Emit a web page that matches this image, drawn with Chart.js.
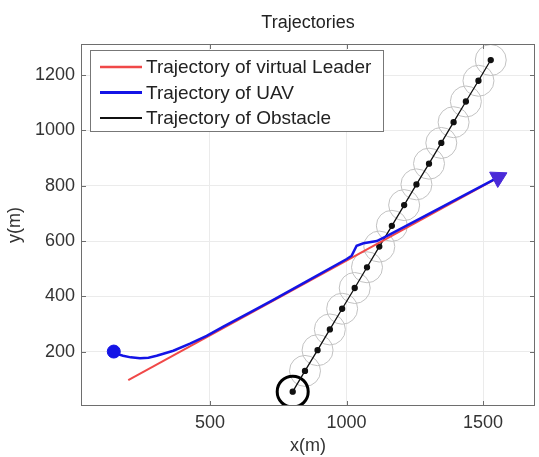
<!DOCTYPE html>
<html>
<head>
<meta charset="utf-8">
<script src="https://cdn.jsdelivr.net/npm/chart.js@4"></script>
<style>
  html, body { margin: 0; padding: 0; background: #fff; }
</style>
</head>
<body>
<canvas id="traj" width="539" height="457"></canvas>
<script>
// trajectories — leader / UAV / obstacle

Chart.defaults.font.family = "'Liberation Sans', Arial, sans-serif";
Chart.defaults.font.size = 18;
Chart.defaults.color = '#333';

const xTicks = [500, 1000, 1500];
const yTicks = [200, 400, 600, 800, 1000, 1200];

// virtual leader (straight)
const leaderX = [201, 1548];
const leaderY = [97, 826];

// UAV path
const uavX = [148, 165, 182, 210, 244, 275, 305, 366, 427, 488, 549, 647, 732, 854, 1001, 1019, 1037, 1062, 1111, 1147, 1555];
const uavY = [200, 190, 185, 179, 176, 178, 185, 203, 229, 257, 290, 342, 387, 454, 535, 547, 583, 592, 600, 618, 830];

// obstacle samples
const obsX = [803, 848, 894, 939, 984, 1030, 1075, 1120, 1166, 1211, 1256, 1302, 1347, 1392, 1437, 1483, 1528];
const obsY = [55, 130, 205, 280, 355, 430, 505, 580, 655, 730, 805, 880, 955, 1030, 1105, 1180, 1255];

const pts = (xs, ys) => xs.map((x, i) => ({ x: x, y: ys[i] }));
const lastUav = uavX.length - 1;

// inward tick marks + box, matlab style
const boxTicks = {
  id: 'boxTicks',
  afterDraw(chart) {
    const { ctx, chartArea: a, scales } = chart;
    ctx.save();
    ctx.strokeStyle = '#6e6e6e';
    ctx.lineWidth = 1;
    ctx.strokeRect(a.left + 0.5, a.top + 0.5, a.right - a.left - 1, a.bottom - a.top - 1);
    ctx.beginPath();
    xTicks.forEach(v => {
      const p = Math.round(scales.x.getPixelForValue(v)) + 0.5;
      ctx.moveTo(p, a.bottom); ctx.lineTo(p, a.bottom - 5);
      ctx.moveTo(p, a.top); ctx.lineTo(p, a.top + 5);
    });
    yTicks.forEach(v => {
      const p = Math.round(scales.y.getPixelForValue(v)) + 0.5;
      ctx.moveTo(a.left, p); ctx.lineTo(a.left + 5, p);
      ctx.moveTo(a.right, p); ctx.lineTo(a.right - 5, p);
    });
    ctx.stroke();
    ctx.restore();
  }
};

// legend box inside the axes
const boxLegend = {
  id: 'boxLegend',
  afterDraw(chart) {
    const ctx = chart.ctx;
    const items = chart.data.datasets.filter(d => d.inLegend);
    ctx.save();
    ctx.fillStyle = '#fff';
    ctx.fillRect(91, 51, 292, 80);
    ctx.strokeStyle = '#777';
    ctx.lineWidth = 1;
    ctx.strokeRect(90.5, 50.5, 293, 81);
    ctx.font = "19px 'Liberation Sans', Arial, sans-serif";
    ctx.textBaseline = 'middle';
    items.forEach((d, i) => {
      const y = 67 + i * 25.5;
      ctx.strokeStyle = d.borderColor;
      ctx.lineWidth = d.borderWidth + 0.5;
      ctx.beginPath(); ctx.moveTo(100, y); ctx.lineTo(142, y); ctx.stroke();
      ctx.fillStyle = '#222';
      ctx.fillText(d.label, 146, y + 1);
    });
    ctx.restore();
  }
};

new Chart(document.getElementById('traj'), {
  type: 'scatter',
  data: {
    datasets: [
      { label: 'Trajectory of virtual Leader', inLegend: true, data: pts(leaderX, leaderY), showLine: true,
        borderColor: '#f04848', borderWidth: 2, pointRadius: 0, order: 1 },
      { label: 'Trajectory of UAV', inLegend: true, data: pts(uavX, uavY), showLine: true,
        borderColor: '#1414e6', borderWidth: 2.5, order: 0,
        pointRadius: c => c.dataIndex === 0 ? 6.5 : (c.dataIndex === lastUav ? 10 : 0),
        pointStyle: c => c.dataIndex === lastUav ? 'triangle' : 'circle',
        pointBackgroundColor: c => c.dataIndex === lastUav ? '#4a2ad8' : '#1414e6',
        pointBorderColor: c => c.dataIndex === lastUav ? '#4a2ad8' : '#1414e6',
        pointBorderWidth: 1,
        rotation: c => {
          if (c.dataIndex !== lastUav) return 0;
          const sx = c.chart.scales.x, sy = c.chart.scales.y;
          const dx = sx.getPixelForValue(uavX[lastUav]) - sx.getPixelForValue(uavX[lastUav - 1]);
          const dy = sy.getPixelForValue(uavY[lastUav]) - sy.getPixelForValue(uavY[lastUav - 1]);
          return Math.atan2(dx, -dy) * 180 / Math.PI;
        } },
      { label: 'Trajectory of Obstacle', inLegend: true, data: pts(obsX, obsY), showLine: true,
        borderColor: '#111', borderWidth: 1.3, pointRadius: 2.5, pointBackgroundColor: '#111',
        pointBorderColor: '#111', order: 2 },
      { label: 'start', data: pts(obsX.slice(0, 1), obsY.slice(0, 1)), pointRadius: 15.5,
        pointBorderWidth: 3, pointBorderColor: '#000', pointBackgroundColor: 'rgba(0,0,0,0)', order: 3 },
      { label: 'safety', data: pts(obsX.slice(1), obsY.slice(1)), pointRadius: 15.5,
        pointBorderWidth: 1, pointBorderColor: '#c2c2c2', pointBackgroundColor: 'rgba(0,0,0,0)', order: 4 }
    ]
  },
  options: {
    responsive: false,
    animation: false,
    layout: { autoPadding: false, padding: { left: 0, right: 4, top: 0, bottom: 0 } },
    plugins: {
      legend: { display: false },
      tooltip: { enabled: false },
      title: { display: true, text: 'Trajectories', fullSize: false, color: '#222',
        font: { size: 18, weight: 'normal', lineHeight: 1.2 }, padding: { top: 12, bottom: 10.4 } }
    },
    scales: {
      x: {
        type: 'linear', min: 28, max: 1690,
        afterBuildTicks: s => { s.ticks = xTicks.map(v => ({ value: v })); },
        afterFit: s => { s.height = 51; s.paddingLeft = 0; s.paddingRight = 0; },
        grid: { color: '#ebebeb', drawTicks: false },
        border: { display: false },
        ticks: { padding: 6, color: '#333', callback: v => String(v) },
        title: { display: true, text: 'x(m)', color: '#333', font: { size: 18, lineHeight: 1.2 }, padding: { top: 0, bottom: 0 } }
      },
      y: {
        type: 'linear', min: 3, max: 1313,
        afterBuildTicks: s => { s.ticks = yTicks.map(v => ({ value: v })); },
        afterFit: s => { s.width = 81; s.paddingTop = 0; s.paddingBottom = 0; },
        grid: { color: '#ebebeb', drawTicks: false },
        border: { display: false },
        ticks: { padding: 6, color: '#333', callback: v => String(v) },
        title: { display: true, text: 'y(m)', color: '#333', font: { size: 18, lineHeight: 1.2 }, padding: { top: 4, bottom: 0 } }
      }
    }
  },
  plugins: [boxTicks, boxLegend]
});
</script>
</body>
</html>
